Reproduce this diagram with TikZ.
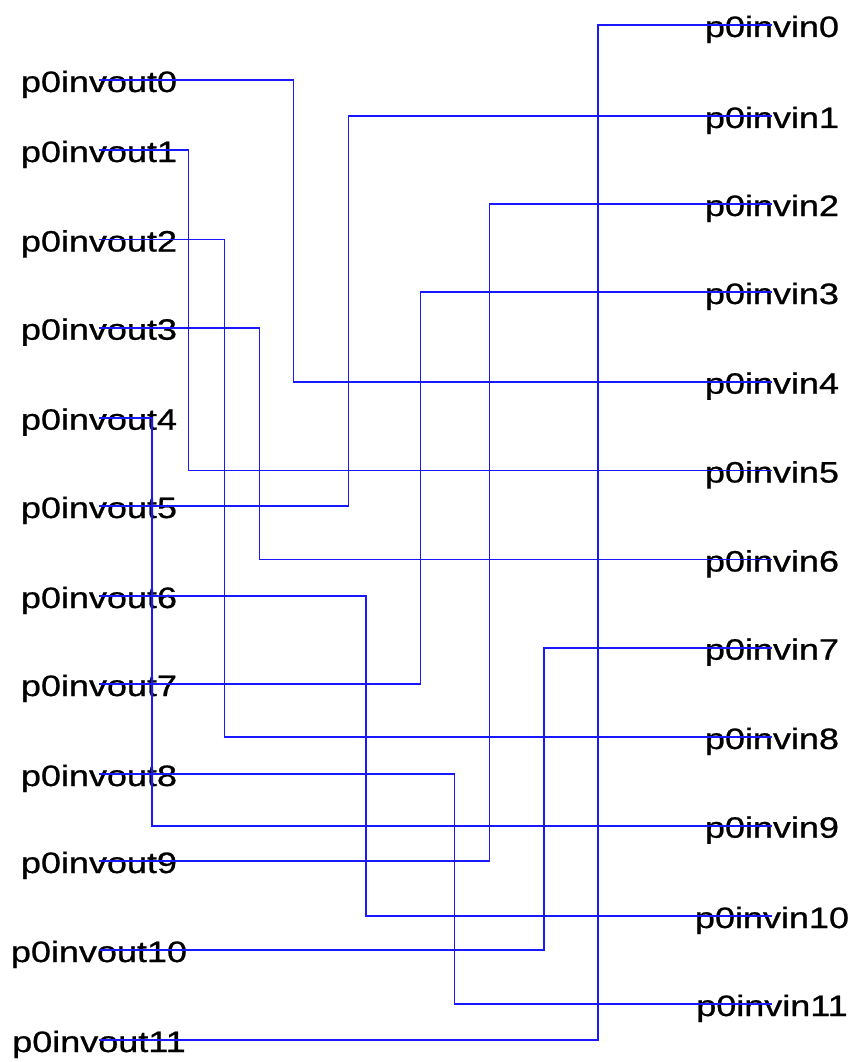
\documentclass[tikz,border=0pt]{standalone}
\usepackage{fontspec}
\setmainfont{Liberation Sans}
\newfontfamily\lblfont[FakeBold=0.7]{Liberation Sans}
\usepackage{graphicx}
\definecolor{wire}{RGB}{25,25,255}
\tikzset{
  lbl/.style={inner sep=0pt, text height=32pt, text depth=8pt, anchor=center,
    font=\lblfont\fontsize{29.5}{32}\selectfont, text=black},
  wireline/.style={draw=wire, line width=1.6pt}
}
\newcommand{\widelbl}[1]{\scalebox{1.22}[1]{#1}}
\begin{document}
\begin{tikzpicture}[x=1pt,y=-1pt]
\useasboundingbox (0,0) rectangle (853,1062);
% left labels
\node[lbl] (o0)  at (99,80)    {\widelbl{p0invout0}};
\node[lbl] (o1)  at (99,150)   {\widelbl{p0invout1}};
\node[lbl] (o2)  at (99,239.5) {\widelbl{p0invout2}};
\node[lbl] (o3)  at (99,327.7) {\widelbl{p0invout3}};
\node[lbl] (o4)  at (99,417.7) {\widelbl{p0invout4}};
\node[lbl] (o5)  at (99,506)   {\widelbl{p0invout5}};
\node[lbl] (o6)  at (99,596)   {\widelbl{p0invout6}};
\node[lbl] (o7)  at (99,684)   {\widelbl{p0invout7}};
\node[lbl] (o8)  at (99,774)   {\widelbl{p0invout8}};
\node[lbl] (o9)  at (99,861)   {\widelbl{p0invout9}};
\node[lbl] (o10) at (99,950)   {\widelbl{p0invout10}};
\node[lbl] (o11) at (99,1040)  {\widelbl{p0invout11}};
% right labels
\node[lbl] (i0)  at (772,25)    {\widelbl{p0invin0}};
\node[lbl] (i1)  at (772,116)   {\widelbl{p0invin1}};
\node[lbl] (i2)  at (772,204)   {\widelbl{p0invin2}};
\node[lbl] (i3)  at (772,292)   {\widelbl{p0invin3}};
\node[lbl] (i4)  at (772,381.7) {\widelbl{p0invin4}};
\node[lbl] (i5)  at (772,470.5) {\widelbl{p0invin5}};
\node[lbl] (i6)  at (772,559.5) {\widelbl{p0invin6}};
\node[lbl] (i7)  at (772,647.7) {\widelbl{p0invin7}};
\node[lbl] (i8)  at (772,737)   {\widelbl{p0invin8}};
\node[lbl] (i9)  at (772,825.7) {\widelbl{p0invin9}};
\node[lbl] (i10) at (772,916)   {\widelbl{p0invin10}};
\node[lbl] (i11) at (772,1004)  {\widelbl{p0invin11}};
% vertical track positions
\coordinate (c0)  at (293.3,0);
\coordinate (c1)  at (188.3,0);
\coordinate (c2)  at (224.3,0);
\coordinate (c3)  at (259.3,0);
\coordinate (c4)  at (151.7,0);
\coordinate (c5)  at (348.3,0);
\coordinate (c6)  at (366,0);
\coordinate (c7)  at (420.3,0);
\coordinate (c8)  at (454.5,0);
\coordinate (c9)  at (489.3,0);
\coordinate (c10) at (544,0);
\coordinate (c11) at (597.7,0);
% wires
\draw[wireline] (o0.center)  -| (c0 |- i4.center)  -- (i4.center);
\draw[wireline] (o1.center)  -| (c1 |- i5.center)  -- (i5.center);
\draw[wireline] (o2.center)  -| (c2 |- i8.center)  -- (i8.center);
\draw[wireline] (o3.center)  -| (c3 |- i6.center)  -- (i6.center);
\draw[wireline] (o4.center)  -| (c4 |- i9.center)  -- (i9.center);
\draw[wireline] (o5.center)  -| (c5 |- i1.center)  -- (i1.center);
\draw[wireline] (o6.center)  -| (c6 |- i10.center) -- (i10.center);
\draw[wireline] (o7.center)  -| (c7 |- i3.center)  -- (i3.center);
\draw[wireline] (o8.center)  -| (c8 |- i11.center) -- (i11.center);
\draw[wireline] (o9.center)  -| (c9 |- i2.center)  -- (i2.center);
\draw[wireline] (o10.center) -| (c10 |- i7.center) -- (i7.center);
\draw[wireline] (o11.center) -| (c11 |- i0.center) -- (i0.center);
\end{tikzpicture}
\end{document}
